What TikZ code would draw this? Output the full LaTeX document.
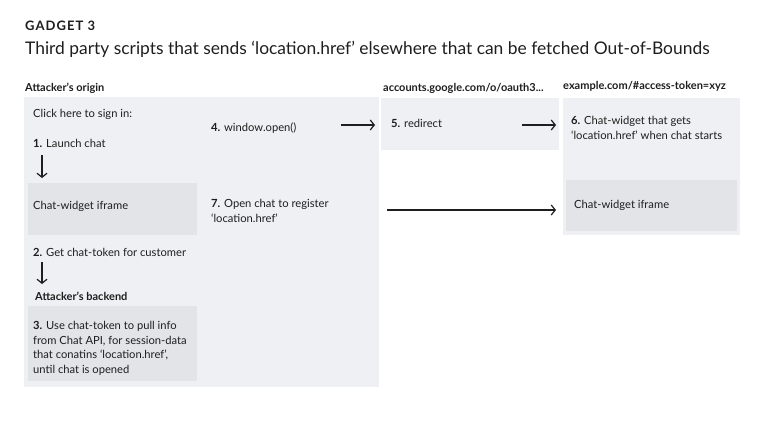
\documentclass[tikz,border=0pt]{standalone}
\usepackage{fontspec}
\setmainfont{Lato}
\usetikzlibrary{arrows.meta,positioning}
\definecolor{panel}{HTML}{EFF0F3}
\definecolor{inner}{HTML}{E2E4E8}
\definecolor{ink}{HTML}{1E1E1E}
\tikzset{
  panelbox/.style={fill=panel, draw=none, inner sep=0pt, anchor=north west},
  innerbox/.style={fill=inner, draw=none, inner sep=0pt, anchor=north west},
  txt/.style={anchor=mid west, inner sep=0pt, text=ink, align=left, yshift=-2.2pt,
    font=\fontsize{11.2}{14.6}\selectfont},
  hdr/.style={txt, font=\fontsize{11}{14.5}\selectfont\bfseries},
  flow/.style={-{Straight Barb[length=4pt,width=10pt]}, line width=1.2pt, draw=ink},
}
\begin{document}
\begin{tikzpicture}[x=1pt,y=-1pt]
\useasboundingbox (0,0) rectangle (768,436);
% heading
\node [hdr, font=\fontsize{13}{15}\selectfont\bfseries\addfontfeature{LetterSpace=8}] (gadget) at (25,26) {GADGET 3};
\node [txt, font=\fontsize{17.4}{20}\selectfont] (title) at (25,50) {Third party scripts that sends ‘location.href’ elsewhere that can be fetched Out-of-Bounds};
% panels
\node [panelbox, minimum width=355pt, minimum height=290pt] (origin) at (24,97) {};
\node [panelbox, minimum width=178pt, minimum height=52pt] (google) at (381,98) {};
\node [panelbox, minimum width=177pt, minimum height=137pt] (example) at (563,98) {};
\node [innerbox, minimum width=169pt, minimum height=52pt] (iframeA) at (28,183) {};
\node [innerbox, minimum width=169pt, minimum height=75pt] (backend) at (28,306) {};
\node [innerbox, minimum width=171pt, minimum height=51pt] (iframeB) at (566,180) {};
% column titles
\node [hdr] (originhdr) at (25,87) {Attacker’s origin};
\node [hdr] (googlehdr) at (383,87) {accounts.google.com/o/oauth3...};
\node [hdr] (examplehdr) at (563,85) {example.com/\#access-token=xyz};
% attacker's origin
\node [txt] (signin) at (33,113) {Click here to sign in:};
\node [txt] (launch) at (33,143) {\textbf{1.} Launch chat};
\node [txt] (iframeAtxt) at (33,205) {Chat-widget iframe};
\node [txt] (token) at (33,252) {\textbf{2.} Get chat-token for customer};
\node [hdr] (backendhdr) at (35,296) {Attacker’s backend};
\node [txt, anchor=north west] (pull) at (33,319) {\textbf{3.} Use chat-token to pull info\\from Chat API, for session-data\\that conatins ‘location.href’,\\until chat is opened};
\node [txt] (winopen) at (211,127) {\textbf{4.} window.open()};
\node [txt, anchor=north west] (openchat) at (211,197) {\textbf{7.} Open chat to register\\‘location.href’};
% other origins
\node [txt] (redirect) at (391,123) {\textbf{5.} redirect};
\node [txt, anchor=north west] (getshref) at (571,114) {\textbf{6.} Chat-widget that gets\\‘location.href’ when chat starts};
\node [txt] (iframeBtxt) at (574,204) {Chat-widget iframe};
% connectors
\coordinate (d1a) at (42,155);
\coordinate (d1b) at (42,178);
\coordinate (d2a) at (42,262);
\coordinate (d2b) at (42,284);
\coordinate (w1) at (341,125);
\coordinate (w2) at (375,125);
\coordinate (r1) at (522,125);
\coordinate (r2) at (556,125);
\coordinate (o1) at (387,210);
\coordinate (o2) at (556,210);
\draw [flow] (d1a) -- (d1b);
\draw [flow] (d2a) -- (d2b);
\draw [flow] (w1) -- (w2);
\draw [flow] (r1) -- (r2);
\draw [flow] (o1) -- (o2);
\end{tikzpicture}
\end{document}
